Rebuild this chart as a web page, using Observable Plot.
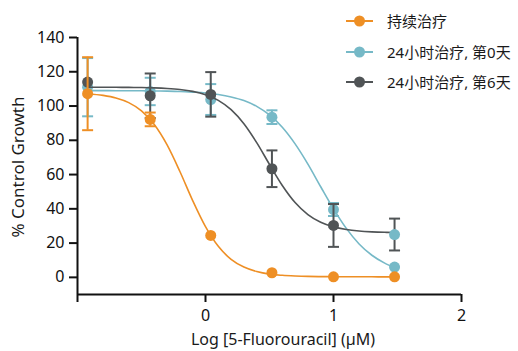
<!DOCTYPE html>
<html><head><meta charset="utf-8">
<script src="https://cdn.jsdelivr.net/npm/d3@7"></script>
<script src="https://cdn.jsdelivr.net/npm/@observablehq/plot@0.6"></script>
<style>
body{margin:0;background:#fff;}
#wrap{position:relative;width:518px;height:351px;font-family:"Noto Sans","Open Sans",sans-serif;color:#1a1a1a;}
#wrap > svg{position:absolute;left:0;top:0;}
#wrap > svg text{font-size:16px;fill:#111;}
.lab{position:absolute;font-size:16px;line-height:1;white-space:nowrap;}
.leg{position:absolute;left:346px;height:20px;font-family:"Noto Sans","Noto Sans CJK SC",sans-serif;font-size:15px;line-height:20px;display:flex;align-items:center;color:#1a1a1a;}
#wrap .leg svg{position:static;display:block;}
</style></head><body><div id="wrap"></div>
<script>
// ---- data ----
const seriesNames = ["持续治疗", "24小时治疗, 第0天", "24小时治疗, 第6天"];
const seriesColors = ["#EE8F25", "#76B9C7", "#505456"];
const logConc = [-0.921, -0.432, 0.041, 0.519, 1.0, 1.477];
const continuousMean = [107.2, 92.2, 24.5, 2.7, 0.3, 0.3];
const continuousSD   = [21.3, 4.0, 0, 0, 0, 0];
const day0Mean = [111, 108.5, 103.8, 93.5, 39.6, 6.0];
const day0SD   = [17, 8.0, 9.0, 4.0, 3.8, 0];
const day6Mean = [114, 106, 106.8, 63.4, 30.3, 25.0];
const day6SD   = [0, 13, 13, 10.7, 12.5, 9.3];
// marker colour group of each day-6 point (last marker appears in the day-0 colour)
const day6Marker = [2, 2, 2, 2, 2, 1];
// fitted curves
const curveX = [-0.921,-0.8,-0.7,-0.6,-0.5,-0.4,-0.3,-0.2,-0.1,0,0.1,0.2,0.3,0.4,0.5,0.6,0.7,0.8,0.9,1.0,1.1,1.2,1.3,1.4,1.477];
const continuousFit = [107.2,106.2,104.7,102.0,97.2,89.2,77.3,61.8,44.8,29.6,18.1,10.5,6.0,3.4,1.9,1.2,0.8,0.55,0.45,0.4,0.35,0.33,0.32,0.31,0.3];
const day0Fit = [109.0,109.0,108.95,108.9,108.9,108.8,108.7,108.5,108.1,107.6,106.7,105.3,103.2,99.8,94.8,87.6,77.9,66.1,52.9,40.0,28.6,19.5,12.9,8.3,5.7];
const day6Fit = [111.0,110.96,110.93,110.88,110.78,110.6,110.26,109.66,108.57,106.64,103.32,97.89,89.67,78.63,65.9,53.64,43.67,36.63,32.14,29.46,27.91,27.05,26.58,26.31,26.19];
const yTicks = [0, 20, 40, 60, 80, 100, 120, 140];
const xTicks = [-1, 0, 1, 2];
const xTickLabels = ["", "0", "1", "2"];

// ---- tables ----
const means = [continuousMean, day0Mean, day6Mean];
const sds = [continuousSD, day0SD, day6SD];
const fits = [continuousFit, day0Fit, day6Fit];
const markers = [logConc.map(() => 0), logConc.map(() => 1), day6Marker];
const points = [], curves = [];
for (let s = 0; s < 3; s++) {
  logConc.forEach((x, i) => points.push({s, x, y: means[s][i], sd: sds[s][i], m: markers[s][i]}));
  curveX.forEach((x, i) => curves.push({s, x, y: fits[s][i]}));
}
const capSymbol = {draw(ctx) { ctx.moveTo(-5.5, 0); ctx.lineTo(5.5, 0); }};

const order = [1, 2, 0];
const marks = [];
for (const s of order) {
  const c = seriesColors[s];
  const pts = points.filter(d => d.s === s);
  const err = pts.filter(d => d.sd > 0);
  marks.push(
    Plot.line(curves.filter(d => d.s === s), {x: "x", y: "y", stroke: c, strokeWidth: 1.6, curve: "monotone-x"}),
    Plot.ruleX(err, {x: "x", y1: d => d.y - d.sd, y2: d => d.y + d.sd, stroke: c, strokeWidth: 2}),
    Plot.dot(err, {x: "x", y: d => d.y + d.sd, symbol: capSymbol, stroke: c, fill: "none", strokeWidth: 2}),
    Plot.dot(err, {x: "x", y: d => d.y - d.sd, symbol: capSymbol, stroke: c, fill: "none", strokeWidth: 2}),
    Plot.dot(pts, {x: "x", y: "y", r: 5.5, fill: d => seriesColors[d.m], stroke: "none"})
  );
}

const xDom = [-1, 2], yDom = [-10, 140];
const chart = Plot.plot({
  width: 518, height: 351,
  marginLeft: 77, marginRight: 57, marginTop: 37, marginBottom: 57,
  x: {domain: xDom}, y: {domain: yDom},
  style: {fontFamily: '"Noto Sans","Open Sans",sans-serif', fontSize: "16px", color: "#111", background: "#fff"},
  marks: [
    Plot.axisY({ticks: yTicks, tickSize: 8, tickPadding: 5, fontSize: 16, label: null, strokeWidth: 2}),
    Plot.axisX({ticks: xTicks, tickFormat: (d) => xTickLabels[xTicks.indexOf(d)], tickSize: 8, tickPadding: 7, fontSize: 16, label: null, strokeWidth: 2}),
    Plot.ruleX([xDom[0]], {y1: yDom[0], y2: yDom[1], stroke: "#111", strokeWidth: 2}),
    Plot.ruleY([yDom[0]], {x1: xDom[0], x2: xDom[1], stroke: "#111", strokeWidth: 2}),
    ...marks
  ]
});
const wrap = document.getElementById("wrap");
wrap.appendChild(chart);

const xl = document.createElement("div");
xl.className = "lab"; xl.textContent = "Log [5-Fluorouracil] (µM)";
xl.style.left = "283px"; xl.style.top = "331px"; xl.style.transform = "translateX(-50%)";
wrap.appendChild(xl);
const yl = document.createElement("div");
yl.className = "lab"; yl.textContent = "% Control Growth";
yl.style.fontSize = "17px";
yl.style.left = "17px"; yl.style.top = "167px"; yl.style.transform = "translate(-50%,-50%) rotate(-90deg)";
wrap.appendChild(yl);

const legTops = [21, 52, 82];
seriesNames.forEach((n, i) => {
  const d = document.createElement("div");
  d.className = "leg";
  d.style.top = (legTops[i] - 10) + "px";
  d.innerHTML = `<svg width="28" height="20"><line x1="0" x2="27" y1="10" y2="10" stroke="${seriesColors[i]}" stroke-width="2"/><circle cx="13.5" cy="10" r="5.5" fill="${seriesColors[i]}"/></svg><span style="margin-left:13px">${n}</span>`;
  wrap.appendChild(d);
});
</script></body></html>
